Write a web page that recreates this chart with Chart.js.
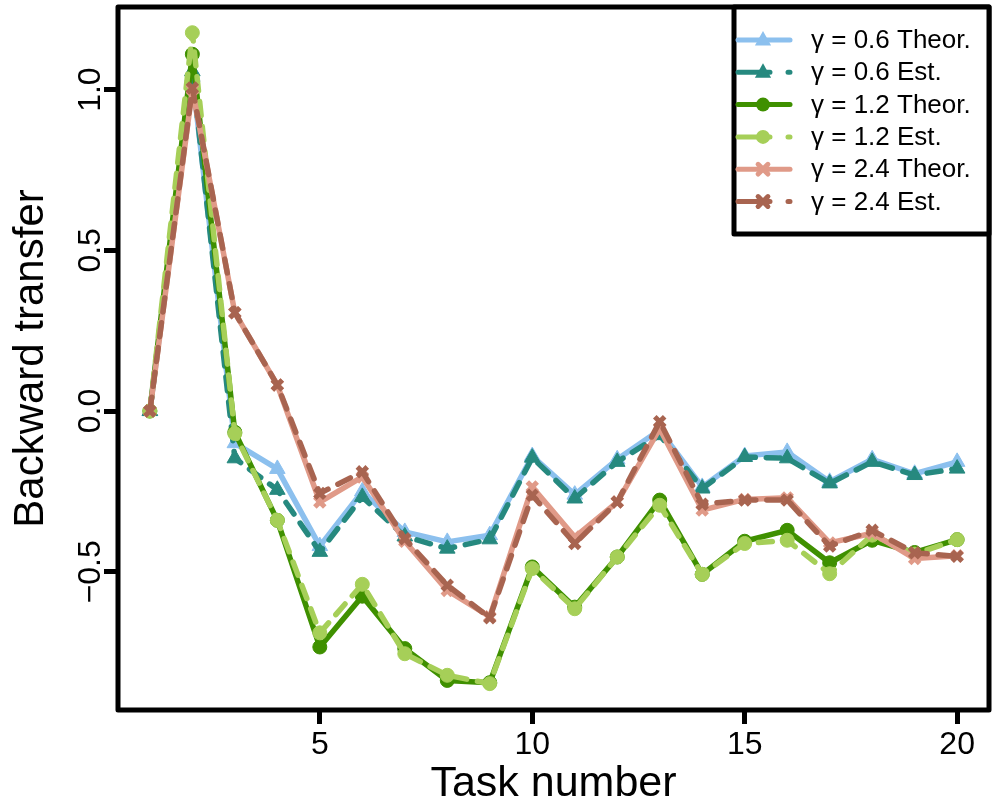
<!DOCTYPE html>
<html>
<head>
<meta charset="utf-8">
<script src="https://cdn.jsdelivr.net/npm/chart.js"></script>
<style>
  html, body { margin: 0; padding: 0; background: #fff; }
  canvas { display: block; }
</style>
</head>
<body>
<canvas id="chart" width="997" height="810"></canvas>
<script>
// values
const tasks = [1, 2, 3, 4, 5, 6, 7, 8, 9, 10, 11, 12, 13, 14, 15, 16, 17, 18, 19, 20];

const g06Theor = [0, 1.04, -0.10, -0.18, -0.42, -0.25, -0.376, -0.407, -0.386, -0.14,
                  -0.26, -0.15, -0.059, -0.236, -0.14, -0.127, -0.22, -0.15, -0.195, -0.158];
const g06Est   = [0, 1.057, -0.147, -0.245, -0.438, -0.267, -0.39, -0.428, -0.399, -0.145,
                  -0.272, -0.158, -0.075, -0.241, -0.143, -0.147, -0.225, -0.158, -0.199, -0.179];
const g12Theor = [0, 1.11, -0.066, -0.34, -0.734, -0.576, -0.739, -0.838, -0.845, -0.485,
                  -0.61, -0.454, -0.277, -0.508, -0.405, -0.371, -0.472, -0.402, -0.44, -0.40];
const g12Est   = [0, 1.177, -0.07, -0.34, -0.69, -0.539, -0.755, -0.822, -0.848, -0.49,
                  -0.615, -0.454, -0.293, -0.508, -0.412, -0.402, -0.506, -0.386, -0.445, -0.40];
const g24Theor = [0, 1.0, 0.306, 0.081, -0.283, -0.205, -0.405, -0.558, -0.64, -0.236,
                  -0.392, -0.283, -0.055, -0.308, -0.275, -0.27, -0.41, -0.38, -0.459, -0.45];
const g24Est   = [0, 1.005, 0.306, 0.081, -0.256, -0.189, -0.397, -0.542, -0.643, -0.262,
                  -0.412, -0.283, -0.033, -0.29, -0.277, -0.277, -0.42, -0.371, -0.441, -0.452];

const seriesLabels = ['γ = 0.6 Theor.', 'γ = 0.6 Est.', 'γ = 1.2 Theor.',
                      'γ = 1.2 Est.', 'γ = 2.4 Theor.', 'γ = 2.4 Est.'];
const xTicks = [5, 10, 15, 20];
const yTicks = [-0.5, 0, 0.5, 1.0];

const FONT = "'Liberation Sans', Arial, Helvetica, sans-serif";

const series = [
  { values: g06Theor, color: '#8cc0ee', shape: 'triangle', dashed: false, r: 9 },
  { values: g06Est,   color: '#26897f', shape: 'triangle', dashed: true,  r: 9 },
  { values: g12Theor, color: '#3f9000', shape: 'circle',   dashed: false, r: 7 },
  { values: g12Est,   color: '#a6cf58', shape: 'circle',   dashed: true,  r: 7 },
  { values: g24Theor, color: '#e09a88', shape: 'crossRot', dashed: false, r: 7 },
  { values: g24Est,   color: '#a86450', shape: 'crossRot', dashed: true,  r: 7 }
];

const datasets = series.map((s, i) => ({
  label: seriesLabels[i],
  data: tasks.map((t, j) => ({ x: t, y: s.values[j] })),
  borderColor: s.color,
  backgroundColor: s.color,
  borderWidth: 5.5,
  borderDash: s.dashed ? [14, 11] : [],
  borderCapStyle: 'round',
  borderJoinStyle: 'round',
  pointStyle: s.shape,
  pointRadius: s.r,
  pointHoverRadius: s.r,
  pointBorderWidth: s.shape === 'crossRot' ? 5 : 1,
  pointBorderColor: s.color,
  pointBackgroundColor: s.color,
  tension: 0,
  order: series.length - i
}));

// draws the heavy frame, the rotated y labels and the boxed legend
const framePlugin = {
  id: 'frame',
  afterDatasetsDraw(chart) {
    const { ctx, chartArea: a, scales } = chart;
    ctx.save();
    ctx.strokeStyle = '#000';
    ctx.lineWidth = 5;
    ctx.lineJoin = 'round';
    ctx.strokeRect(a.left, a.top, a.right - a.left, a.bottom - a.top);

    // y tick labels, rotated like R does
    ctx.fillStyle = '#000';
    ctx.font = '32px ' + FONT;
    ctx.textAlign = 'center';
    ctx.textBaseline = 'alphabetic';
    scales.y.ticks.forEach(t => {
      const py = scales.y.getPixelForValue(t.value);
      ctx.save();
      ctx.translate(100, py);
      ctx.rotate(-Math.PI / 2);
      ctx.fillText(t.value === 0 ? '0.0' : (t.value < 0 ? '\u22120.5' : t.value.toFixed(1)), 0, 0);
      ctx.restore();
    });

    // legend
    const lx = 734, ly = a.top, lw = a.right - 734, lh = 234 - a.top;
    ctx.fillStyle = '#fff';
    ctx.fillRect(lx, ly, lw, lh);
    ctx.strokeRect(lx, ly, lw, lh);
    chart.data.datasets.forEach((ds, i) => {
      const y = 40 + i * 32.3;
      ctx.strokeStyle = ds.borderColor;
      ctx.fillStyle = ds.borderColor;
      ctx.lineWidth = 5;
      ctx.lineCap = 'round';
      ctx.setLineDash(ds.borderDash.length ? [32, 18] : []);
      ctx.beginPath();
      ctx.moveTo(738, y);
      ctx.lineTo(790, y);
      ctx.stroke();
      ctx.setLineDash([]);
      const mx = 763, r = ds.pointRadius;
      if (ds.pointStyle === 'triangle') {
        ctx.beginPath();
        ctx.moveTo(mx, y - r);
        ctx.lineTo(mx + r * 0.9, y + r * 0.6);
        ctx.lineTo(mx - r * 0.9, y + r * 0.6);
        ctx.closePath();
        ctx.fill();
      } else if (ds.pointStyle === 'circle') {
        ctx.beginPath();
        ctx.arc(mx, y, r, 0, Math.PI * 2);
        ctx.fill();
      } else {
        const d = r * 0.7;
        ctx.beginPath();
        ctx.moveTo(mx - d, y - d); ctx.lineTo(mx + d, y + d);
        ctx.moveTo(mx + d, y - d); ctx.lineTo(mx - d, y + d);
        ctx.stroke();
      }
      ctx.fillStyle = '#000';
      ctx.font = '26px ' + FONT;
      ctx.textAlign = 'left';
      ctx.textBaseline = 'middle';
      ctx.fillText(ds.label, 811, y + 1);
    });
    ctx.restore();
  }
};

new Chart(document.getElementById('chart').getContext('2d'), {
  type: 'line',
  data: { datasets },
  plugins: [framePlugin],
  options: {
    responsive: false,
    animation: false,
    layout: { autoPadding: false, padding: { left: 0, right: 8, top: 7, bottom: 0 } },
    plugins: { legend: { display: false }, tooltip: { enabled: false } },
    scales: {
      x: {
        type: 'linear',
        min: 0.25,
        max: 20.75,
        afterFit: s => { s.height = 100; s.paddingLeft = 0; s.paddingRight = 0; },
        afterBuildTicks: s => { s.ticks = xTicks.map(v => ({ value: v })); },
        grid: { drawOnChartArea: false, drawTicks: true, tickLength: 14, tickWidth: 5, tickColor: '#000' },
        border: { display: false },
        ticks: { color: '#000', padding: 2, font: { family: FONT, size: 32 } },
        title: { display: true, text: 'Task number', color: '#000', padding: { top: 0, bottom: 0 },
                 font: { family: FONT, size: 43 } }
      },
      y: {
        type: 'linear',
        min: -0.93,
        max: 1.257,
        afterFit: s => { s.width = 118; s.paddingTop = 0; s.paddingBottom = 0; },
        afterBuildTicks: s => { s.ticks = yTicks.map(v => ({ value: v })); },
        grid: { drawOnChartArea: false, drawTicks: true, tickLength: 14, tickWidth: 5, tickColor: '#000' },
        border: { display: false },
        ticks: { color: 'rgba(0,0,0,0)', font: { family: FONT, size: 1 } },
        title: { display: true, text: 'Backward transfer', color: '#000', padding: { top: 6, bottom: 0 },
                 font: { family: FONT, size: 42 } }
      }
    }
  }
});
</script>
</body>
</html>
